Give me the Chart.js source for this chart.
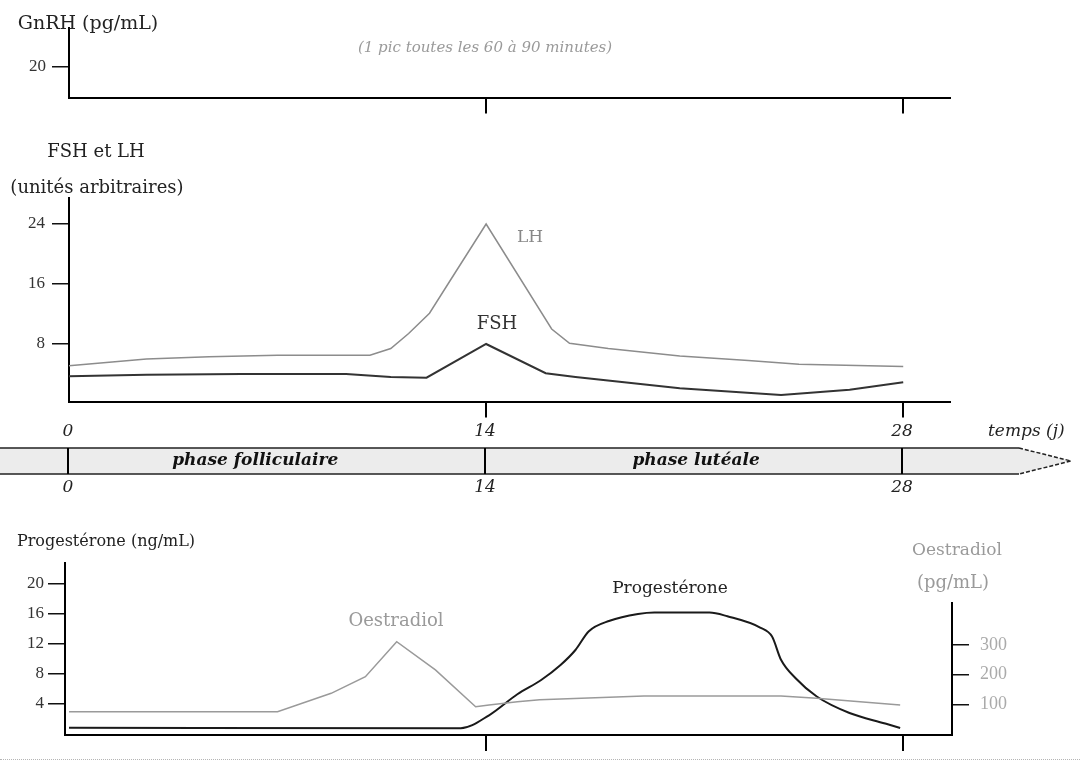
<!DOCTYPE html>
<html lang="fr">
<head>
<meta charset="utf-8">
<title>Cycle ovarien - hormones</title>
<script src="https://cdn.jsdelivr.net/npm/chart.js@4.4.1/dist/chart.umd.min.js"></script>
<style>
  html, body { margin: 0; padding: 0; background: #fff; }
  #page { position: relative; width: 1080px; height: 761px; overflow: hidden; font-family: "DejaVu Serif", serif; }
  canvas { position: absolute; left: 0; }
  .t { position: absolute; white-space: nowrap; line-height: 1; transform: translate(-50%, -50%); color: #222; }
  .grey { color: #9a9a9a; }
  #scanline { position: absolute; left: 0; right: 0; top: 759px; border-top: 1px dotted #b5b5b5; }
</style>
</head>
<body>
<div id="page">
  <canvas id="gnrh" width="1080" height="130" style="top:0"></canvas>
  <canvas id="gonado" width="1080" height="370" style="top:130px"></canvas>
  <canvas id="ovaire" width="1080" height="221" style="top:540px"></canvas>

  <div class="t" style="left:88px;top:22px;font-size:19px">GnRH (pg/mL)</div>
  <div class="t grey" style="left:485px;top:47px;font-size:15px;font-style:italic">(1 pic toutes les 60 à 90 minutes)</div>
  <div class="t" style="left:96px;top:151px;font-size:18px">FSH et LH</div>
  <div class="t" style="left:97px;top:187px;font-size:18px">(unités arbitraires)</div>
  <div class="t" style="left:530px;top:236px;font-size:17px;color:#888">LH</div>
  <div class="t" style="left:497px;top:323px;font-size:18px;color:#333">FSH</div>
  <div class="t" style="left:106px;top:541px;font-size:16px">Progestérone (ng/mL)</div>
  <div class="t grey" style="left:396px;top:620px;font-size:18px">Oestradiol</div>
  <div class="t" style="left:670px;top:587px;font-size:17px">Progestérone</div>
  <div class="t grey" style="left:957px;top:549px;font-size:17px">Oestradiol</div>
  <div class="t grey" style="left:953px;top:582px;font-size:18px">(pg/mL)</div>
  <div id="scanline"></div>
</div>
<script>
// repères de l'axe du temps (jours)
const dayTicks = [0, 14, 28];
const cycleTicks = [14, 28];

// graduations des axes
const gnrhTicks = [20];
const gonadoTicks = [8, 16, 24];
const progTicks = [4, 8, 12, 16, 20];
const oestroTicks = [100, 200, 300];

// LH et FSH (unités arbitraires)
const lhDays = [0, 2.6, 4.7, 7, 10.1, 10.8, 11.4, 12.1, 12.8, 14, 16.2, 16.8, 18.1, 20.5, 22.8, 24.5, 28];
const lhValues = [5.1, 6.0, 6.3, 6.5, 6.5, 7.4, 9.4, 12.1, 16.5, 24, 10.0, 8.1, 7.4, 6.4, 5.8, 5.3, 5.0];
const fshDays = [0, 2.6, 5.8, 9.3, 10.8, 12, 14, 16, 17, 20.5, 23.9, 26.2, 28];
const fshValues = [3.7, 3.9, 4.0, 4.0, 3.6, 3.5, 8.0, 4.1, 3.6, 2.1, 1.2, 1.9, 2.9];

// progestérone (ng/mL)
const progDays = [0, 13.15, 14.1, 15.05, 15.85, 16.5, 17, 17.45, 18.15, 19.1, 19.65, 21.5, 22.1, 23.2, 23.6, 23.9, 24.4, 25.1, 26.2, 27.4, 27.9];
const progValues = [0.75, 0.67, 2.4, 5.2, 7.1, 9.1, 11.1, 13.6, 15.0, 15.9, 16.1, 16.1, 15.6, 14.1, 12.9, 9.8, 7.3, 4.9, 2.7, 1.3, 0.7];

// oestradiol (pg/mL)
const oestroDays = [0, 7, 8.8, 9.95, 11, 12.3, 13.65, 14.1, 15.05, 15.8, 19.3, 23.9, 25.1, 27.9];
const oestroValues = [75, 75, 137, 193, 311, 216, 92, 98, 109, 115, 128, 128, 120, 98];
const oestroAxisTop = 445;

const serif = 'Liberation Serif';

function points(days, values) {
    return days.map((d, i) => ({ x: d, y: values[i] }));
}

function fixedTicks(list) {
    return function (scale) {
        scale.ticks = list.map(v => ({ value: v }));
    };
}

function timeAxis(min, max, height) {
    return {
        type: 'linear',
        min: min,
        max: max,
        afterBuildTicks: fixedTicks(cycleTicks),
        afterFit: s => { s.height = height; },
        ticks: { display: false },
        grid: { drawOnChartArea: false, tickLength: 16, color: '#000', lineWidth: 2 },
        border: { display: true, color: '#000', width: 2 }
    };
}

function valueAxis(min, max, ticks, width, position, colour, size, pad) {
    return {
        type: 'linear',
        position: position,
        min: min,
        max: max,
        afterBuildTicks: fixedTicks(ticks),
        afterFit: s => { s.width = width; },
        ticks: { color: colour, padding: pad, font: { family: serif, size: size } },
        grid: { drawOnChartArea: false, tickLength: 17, color: '#111', lineWidth: 1.5 },
        border: { display: position === 'left', color: '#000', width: 2 }
    };
}

const common = {
    responsive: false,
    animation: false,
    events: [],
    plugins: { legend: { display: false }, tooltip: { enabled: false } },
    elements: { point: { radius: 0 }, line: { tension: 0 } }
};

// bande "phase folliculaire / phase lutéale"
const timeBand = {
    id: 'timeBand',
    afterDraw(chart) {
        const ctx = chart.ctx;
        const x = chart.scales.x;
        const top = 318, bot = 344, mid = 331, end = 1019, tip = 1071;
        ctx.save();
        ctx.fillStyle = '#ececec';
        ctx.beginPath();
        ctx.moveTo(0, top); ctx.lineTo(end, top); ctx.lineTo(tip, mid);
        ctx.lineTo(end, bot); ctx.lineTo(0, bot); ctx.closePath();
        ctx.fill();
        ctx.strokeStyle = '#222';
        ctx.lineWidth = 1.5;
        ctx.beginPath();
        ctx.moveTo(0, top); ctx.lineTo(end, top);
        ctx.moveTo(0, bot); ctx.lineTo(end, bot);
        ctx.stroke();
        ctx.setLineDash([4, 2]);
        ctx.beginPath();
        ctx.moveTo(end, top); ctx.lineTo(tip, mid); ctx.lineTo(end, bot);
        ctx.stroke();
        ctx.setLineDash([]);

        ctx.strokeStyle = '#000';
        ctx.lineWidth = 2;
        ctx.fillStyle = '#222';
        ctx.textAlign = 'center';
        ctx.textBaseline = 'middle';
        ctx.font = 'italic 17px "DejaVu Serif"';
        dayTicks.forEach(d => {
            const px = Math.round(x.getPixelForValue(d)) - 1;
            ctx.beginPath(); ctx.moveTo(px, top); ctx.lineTo(px, bot); ctx.stroke();
            ctx.fillText(String(d), px, 302);
            ctx.fillText(String(d), px, 358);
        });
        ctx.textAlign = 'left';
        ctx.fillText('temps (j)', 988, 302);

        ctx.textAlign = 'center';
        ctx.font = 'italic bold 17px "DejaVu Serif"';
        ctx.fillStyle = '#111';
        ctx.fillText('phase folliculaire', x.getPixelForValue(6.25), mid);
        ctx.fillText('phase lutéale', x.getPixelForValue(21.05), mid);
        ctx.restore();
    }
};

// axe de droite (oestradiol) plus court que celui de gauche
const rightSpine = {
    id: 'rightSpine',
    afterDraw(chart) {
        const s = chart.scales.y2;
        const ctx = chart.ctx;
        ctx.save();
        ctx.strokeStyle = '#000';
        ctx.lineWidth = 2;
        ctx.beginPath();
        ctx.moveTo(s.left, s.getPixelForValue(oestroAxisTop));
        ctx.lineTo(s.left, chart.chartArea.bottom + 1);
        ctx.stroke();
        ctx.restore();
    }
};

new Chart(document.getElementById('gnrh'), {
    type: 'line',
    data: { datasets: [] },
    options: Object.assign({}, common, {
        layout: { padding: { left: 0, right: 130, top: 28, bottom: 0 } },
        scales: {
            x: timeAxis(0, 29.57, 32.5),
            y: valueAxis(0, 45.6, gnrhTicks, 69, 'left', '#333', 17, 6)
        }
    })
});

new Chart(document.getElementById('gonado'), {
    type: 'line',
    data: {
        datasets: [
            { label: 'LH', data: points(lhDays, lhValues), borderColor: '#8c8c8c', borderWidth: 1.5 },
            { label: 'FSH', data: points(fshDays, fshValues), borderColor: '#333', borderWidth: 2 }
        ]
    },
    options: Object.assign({}, common, {
        layout: { padding: { left: 0, right: 130, top: 68, bottom: 0 } },
        scales: {
            x: timeAxis(0, 29.57, 98.5),
            y: valueAxis(0.33, 27.47, gonadoTicks, 69, 'left', '#333', 17, 7)
        }
    }),
    plugins: [timeBand]
});

new Chart(document.getElementById('ovaire'), {
    type: 'line',
    data: {
        datasets: [
            { label: 'Oestradiol', data: points(oestroDays, oestroValues), yAxisID: 'y2', borderColor: '#9a9a9a', borderWidth: 1.5 },
            { label: 'Progestérone', data: points(progDays, progValues), yAxisID: 'y', borderColor: '#1a1a1a', borderWidth: 2, cubicInterpolationMode: 'monotone' }
        ]
    },
    options: Object.assign({}, common, {
        layout: { padding: { left: 0, right: 0, top: 23, bottom: 0 } },
        scales: {
            x: timeAxis(-0.134, 29.64, 26),
            y: valueAxis(-0.23, 22.7, progTicks, 65, 'left', '#333', 17, 4),
            y2: valueAxis(-3.4, 576, oestroTicks, 128, 'right', '#aaa', 18, 11)
        }
    }),
    plugins: [rightSpine]
});
</script>
</body>
</html>
